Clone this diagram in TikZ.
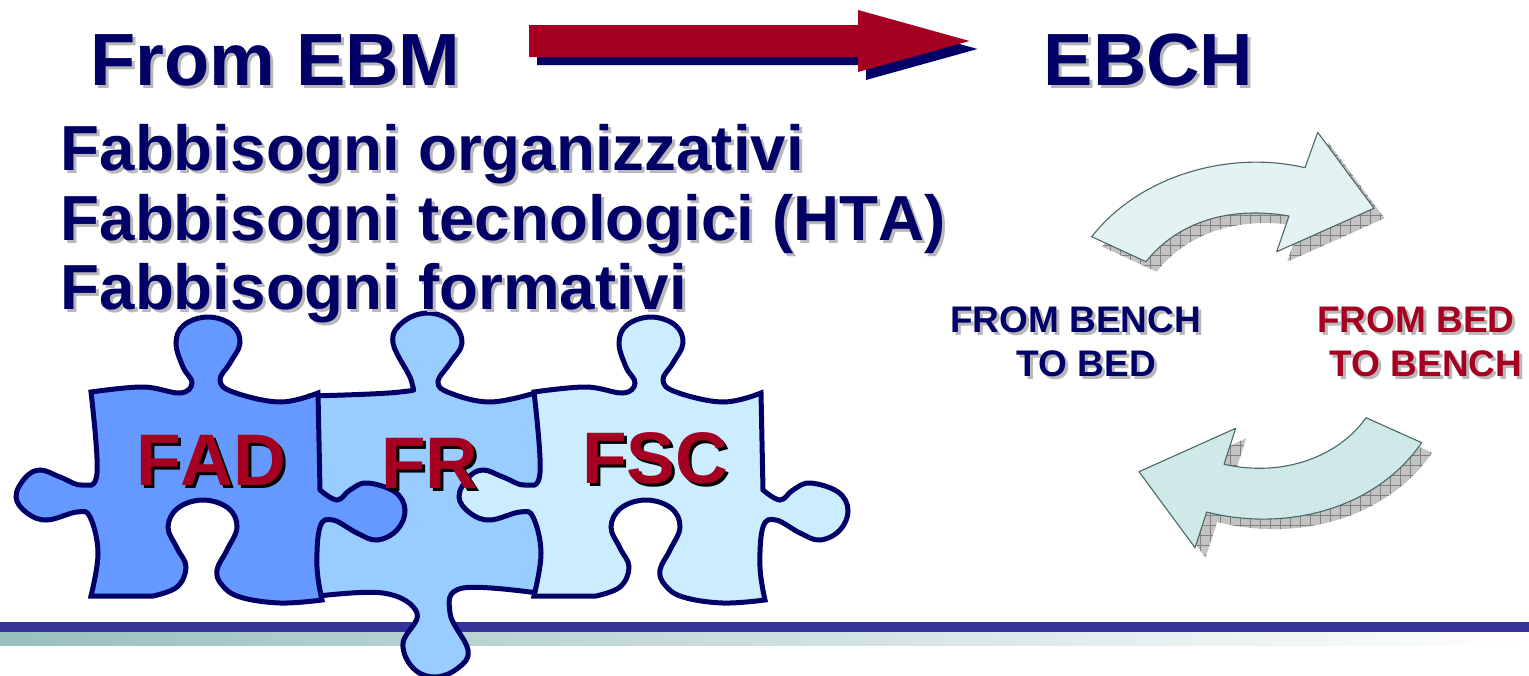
\documentclass[tikz,border=0pt]{standalone}
\usepackage{fontspec}
\setmainfont[Kerning=Off]{Liberation Sans}
\usetikzlibrary{patterns.meta}
\definecolor{navy}{HTML}{000066}
\definecolor{crimson}{HTML}{A50021}
\definecolor{softgray}{HTML}{B8B8B8}
\definecolor{bandblue}{HTML}{333399}
\definecolor{bandteal}{HTML}{99BFBF}
\definecolor{fadblue}{HTML}{6699FF}
\definecolor{frblue}{HTML}{99CCFF}
\definecolor{fscblue}{HTML}{CCECFF}
\definecolor{arrowedge}{HTML}{4D6666}
\definecolor{arrowlight}{HTML}{E3F3F3}
\definecolor{arrowdark}{HTML}{CFE9E9}
\newcommand{\dropnode}[5]{
    \node [#4, text=#5, xshift=3pt, yshift=-3pt] (#1shadow) at (#2) {#3};
}
\newcommand{\upperpath}{(1091.7,236.7) .. controls (1140,175) and (1230,150) .. (1305,167.7)
    -- (1317.7,132.3) -- (1374,208.3) -- (1276.7,251.7) -- (1289,216)
    .. controls (1225,205) and (1175,225) .. (1146,261.7) -- cycle}
\newcommand{\lowerpath}{(1366,417.7) -- (1421.7,442.7)
    .. controls (1375,510) and (1285,532) .. (1206.7,512)
    -- (1195,547.7) -- (1139,471.7) -- (1235.7,428.3) -- (1224,464.3)
    .. controls (1285,478) and (1340,455) .. (1366,417.7) -- cycle}
\begin{document}
\begin{tikzpicture}[
    x=1pt, y=-1pt,
    every node/.style={anchor=base west, inner sep=0pt},
    heading/.style={font=\bfseries\fontsize{74}{74}\selectfont},
    needs/.style={font=\bfseries\fontsize{63.7}{63.7}\selectfont},
    small/.style={font=\bfseries\fontsize{37}{37}\selectfont},
    tag/.style={font=\bfseries\fontsize{73}{73}\selectfont},
    edge/.style={draw=navy, line width=5pt, miter limit=4},
    curved/.style={draw=arrowedge, line width=1.1pt, line join=round},
    hatched/.style={fill=softgray!85, shift={(10.5,10)}},
    piece/.pic={
        \draw [edge, pic actions]
            plot [smooth, tension=.65] coordinates {(91,392) (143,387) (180,393) (192,383) (183,367) (176,343) (184,325) (208,317) (232,325) (240,343) (230,363) (220,380) (233,392) (280,402) (318,393)}
            -- plot [smooth, tension=.65] coordinates {(320,490) (337,500) (350,490) (367,483) (395,492) (405,510) (397,530) (377,540) (357,533) (333,520) (320,527) (317,567) (322,600)}
            -- plot [smooth, tension=.65] coordinates {(322,600) (280,603) (240,597) (222,585) (217,570) (227,550) (237,527) (228,508) (203,500) (178,508) (168,527) (177,548) (186,567) (177,587) (153,596)}
            -- (91,596)
            -- plot [smooth, tension=.65] coordinates {(91,596) (98,553) (90,517) (77,512) (47,520) (27,513) (16,497) (25,478) (40,470) (60,477) (82,485) (97,473) (91,392)}
            -- cycle;
    }
]
\useasboundingbox (0,0) rectangle (1529,675);
\clip (0,0) rectangle (1529,675);

\fill [bandblue] (0,622) rectangle (1529,632);
\shade [left color=bandteal, right color=white] (0,632) rectangle (1529,645);

\fill [navy, shift={(8,8)}] (529,25) -- (858,25) -- (858,10) -- (969.5,41) -- (858,72) -- (858,57) -- (529,57) -- cycle;
\fill [crimson] (529,25) -- (858,25) -- (858,10) -- (969.5,41) -- (858,72) -- (858,57) -- (529,57) -- cycle;

\fill [hatched] \upperpath;
\path [hatched, pattern={Lines[angle=0, distance=10pt, line width=.5pt]}, pattern color=gray] \upperpath;
\path [hatched, pattern={Lines[angle=90, distance=10pt, line width=.5pt]}, pattern color=gray] \upperpath;
\draw [curved, fill=arrowlight] \upperpath;

\fill [hatched] \lowerpath;
\path [hatched, pattern={Lines[angle=0, distance=10pt, line width=.5pt]}, pattern color=gray] \lowerpath;
\path [hatched, pattern={Lines[angle=90, distance=10pt, line width=.5pt]}, pattern color=gray] \lowerpath;
\draw [curved, fill=arrowdark] \lowerpath;

\draw [edge, fill=frblue]
    (310,597) -- plot [smooth, tension=.65] coordinates {(310,396) (400,392) (412,383) (393,343) (403,322) (428,313) (452,322) (462,343) (450,363) (438,382) (450,393) (490,402) (535,393)}
    -- (545,430) -- (545,594)
    -- plot [smooth, tension=.65] coordinates {(545,594) (463,588) (450,613) (468,650) (458,668) (435,677) (413,668) (403,643) (417,613) (383,593) (310,597)}
    -- cycle;
\pic (fad) [fill=fadblue] at (0,0) {piece};
\pic (fsc) [fill=fscblue] at (443,0) {piece};

\dropnode{from}{90.5,85}{From EBM}{heading}{softgray}
\node [heading, text=navy] (from) at (90.5,85) {From EBM};
\dropnode{ebch}{1043.5,85}{EBCH}{heading}{softgray}
\node [heading, text=navy] (ebch) at (1043.5,85) {EBCH};

\dropnode{org}{60.5,170}{Fabbisogni organizzativi}{needs}{softgray}
\node [needs, text=navy] (org) at (60.5,170) {Fabbisogni organizzativi};
\dropnode{tec}{60.5,240}{Fabbisogni tecnologici (HTA)}{needs}{softgray}
\node [needs, text=navy] (tec) at (60.5,240) {Fabbisogni tecnologici (HTA)};
\dropnode{form}{60.5,309}{Fabbisogni formativi}{needs}{softgray}
\node [needs, text=navy] (form) at (60.5,309) {Fabbisogni formativi};

\dropnode{benchA}{950,332}{FROM BENCH}{small}{softgray}
\node [small, text=navy] (benchA) at (950,332) {FROM BENCH};
\dropnode{benchB}{1016,376}{TO BED}{small}{softgray}
\node [small, text=navy] (benchB) at (1016,376) {TO BED};
\dropnode{bedA}{1317,332}{FROM BED}{small}{softgray}
\node [small, text=crimson] (bedA) at (1317,332) {FROM BED};
\dropnode{bedB}{1329,376}{TO BENCH}{small}{softgray}
\node [small, text=crimson] (bedB) at (1329,376) {TO BENCH};

\dropnode{fadtag}{136,485}{FAD}{tag}{black}
\node [tag, text=crimson] (fadtag) at (136,485) {FAD};
\dropnode{frtag}{381,488}{FR}{tag}{black}
\node [tag, text=crimson] (frtag) at (381,488) {FR};
\dropnode{fsctag}{582,483}{FSC}{tag}{black}
\node [tag, text=crimson] (fsctag) at (582,483) {FSC};
\end{tikzpicture}
\end{document}
